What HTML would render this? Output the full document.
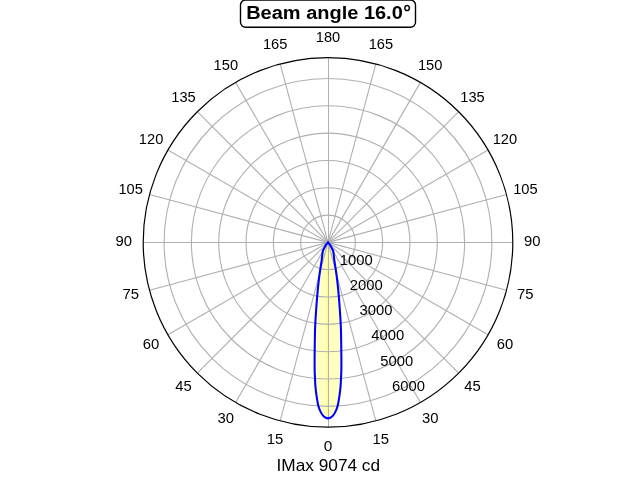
<!DOCTYPE html>
<html><head><meta charset="utf-8"><title>Beam angle</title>
<style>
html,body{margin:0;padding:0;background:#fff;}
body{width:640px;height:480px;overflow:hidden;}
svg{display:block;will-change:transform;}
text{font-family:"Liberation Sans",sans-serif;fill:#000;}
</style></head><body>
<svg width="640" height="480" viewBox="0 0 640 480">
<rect x="0" y="0" width="640" height="480" fill="#fff"/>
<path d="M328.00 242.30 C328.40 242.83 329.67 244.34 330.40 245.50 C331.13 246.66 331.93 248.33 332.40 249.25 C332.87 250.17 333.07 250.71 333.20 251.00 C333.31 251.83 333.67 254.48 333.85 256.00 C334.03 257.52 333.99 257.92 334.30 260.10 C334.61 262.28 335.22 265.77 335.70 269.10 C336.18 272.43 336.68 275.60 337.20 280.10 C337.72 284.60 338.33 290.73 338.80 296.10 C339.27 301.47 339.65 306.97 340.00 312.30 C340.35 317.63 340.68 321.80 340.90 328.10 C341.12 334.40 341.22 344.40 341.30 350.10 C341.38 355.80 341.40 358.63 341.40 362.30 C341.40 365.97 341.35 369.80 341.30 372.10 C341.25 374.40 341.22 373.77 341.10 376.10 C340.98 378.43 340.88 382.77 340.60 386.10 C340.32 389.43 339.90 392.77 339.40 396.10 C338.90 399.43 338.29 403.43 337.60 406.10 C336.91 408.77 336.10 410.43 335.25 412.10 C334.40 413.77 333.34 415.15 332.50 416.10 C331.66 417.05 330.95 417.42 330.20 417.80 C329.45 418.18 328.73 418.40 328.00 418.40 C327.27 418.40 326.55 418.18 325.80 417.80 C325.05 417.42 324.34 417.05 323.50 416.10 C322.66 415.15 321.60 413.77 320.75 412.10 C319.90 410.43 319.09 408.77 318.40 406.10 C317.71 403.43 317.10 399.43 316.60 396.10 C316.10 392.77 315.68 389.43 315.40 386.10 C315.12 382.77 315.02 378.43 314.90 376.10 C314.78 373.77 314.75 374.40 314.70 372.10 C314.65 369.80 314.60 365.97 314.60 362.30 C314.60 358.63 314.62 355.80 314.70 350.10 C314.78 344.40 314.88 334.40 315.10 328.10 C315.32 321.80 315.65 317.63 316.00 312.30 C316.35 306.97 316.73 301.47 317.20 296.10 C317.67 290.73 318.28 284.60 318.80 280.10 C319.32 275.60 319.82 272.43 320.30 269.10 C320.78 265.77 321.39 262.28 321.70 260.10 C322.01 257.92 321.97 257.52 322.15 256.00 C322.33 254.48 322.69 251.83 322.80 251.00 C322.93 250.71 323.13 250.17 323.60 249.25 C324.07 248.33 324.87 246.66 325.60 245.50 C326.33 244.34 327.60 242.83 328.00 242.30 Z" fill="#ffffbf" stroke="none"/>
<rect x="327.05" y="242.3" width="1.0" height="175" fill="#ffff78"/>
<circle cx="328.00" cy="242.40" r="27.32" fill="none" stroke="#b0b0b0" stroke-width="1.11"/>
<circle cx="328.00" cy="242.40" r="54.64" fill="none" stroke="#b0b0b0" stroke-width="1.11"/>
<circle cx="328.00" cy="242.40" r="81.96" fill="none" stroke="#b0b0b0" stroke-width="1.11"/>
<circle cx="328.00" cy="242.40" r="109.28" fill="none" stroke="#b0b0b0" stroke-width="1.11"/>
<circle cx="328.00" cy="242.40" r="136.60" fill="none" stroke="#b0b0b0" stroke-width="1.11"/>
<circle cx="328.00" cy="242.40" r="163.92" fill="none" stroke="#b0b0b0" stroke-width="1.11"/>
<line x1="328.50" y1="242.40" x2="328.50" y2="427.20" stroke="#b0b0b0" stroke-width="1"/>
<line x1="328.00" y1="242.40" x2="375.83" y2="420.90" stroke="#b0b0b0" stroke-width="1.11"/>
<line x1="328.00" y1="242.40" x2="420.40" y2="402.44" stroke="#b0b0b0" stroke-width="1.11"/>
<line x1="328.00" y1="242.40" x2="458.67" y2="373.07" stroke="#b0b0b0" stroke-width="1.11"/>
<line x1="328.00" y1="242.40" x2="488.04" y2="334.80" stroke="#b0b0b0" stroke-width="1.11"/>
<line x1="328.00" y1="242.40" x2="506.50" y2="290.23" stroke="#b0b0b0" stroke-width="1.11"/>
<line x1="328.00" y1="242.50" x2="512.80" y2="242.50" stroke="#b0b0b0" stroke-width="1"/>
<line x1="328.00" y1="242.40" x2="506.50" y2="194.57" stroke="#b0b0b0" stroke-width="1.11"/>
<line x1="328.00" y1="242.40" x2="488.04" y2="150.00" stroke="#b0b0b0" stroke-width="1.11"/>
<line x1="328.00" y1="242.40" x2="458.67" y2="111.73" stroke="#b0b0b0" stroke-width="1.11"/>
<line x1="328.00" y1="242.40" x2="420.40" y2="82.36" stroke="#b0b0b0" stroke-width="1.11"/>
<line x1="328.00" y1="242.40" x2="375.83" y2="63.90" stroke="#b0b0b0" stroke-width="1.11"/>
<line x1="328.50" y1="242.40" x2="328.50" y2="57.60" stroke="#b0b0b0" stroke-width="1"/>
<line x1="328.00" y1="242.40" x2="280.17" y2="63.90" stroke="#b0b0b0" stroke-width="1.11"/>
<line x1="328.00" y1="242.40" x2="235.60" y2="82.36" stroke="#b0b0b0" stroke-width="1.11"/>
<line x1="328.00" y1="242.40" x2="197.33" y2="111.73" stroke="#b0b0b0" stroke-width="1.11"/>
<line x1="328.00" y1="242.40" x2="167.96" y2="150.00" stroke="#b0b0b0" stroke-width="1.11"/>
<line x1="328.00" y1="242.40" x2="149.50" y2="194.57" stroke="#b0b0b0" stroke-width="1.11"/>
<line x1="328.00" y1="242.50" x2="143.20" y2="242.50" stroke="#b0b0b0" stroke-width="1"/>
<line x1="328.00" y1="242.40" x2="149.50" y2="290.23" stroke="#b0b0b0" stroke-width="1.11"/>
<line x1="328.00" y1="242.40" x2="167.96" y2="334.80" stroke="#b0b0b0" stroke-width="1.11"/>
<line x1="328.00" y1="242.40" x2="197.33" y2="373.07" stroke="#b0b0b0" stroke-width="1.11"/>
<line x1="328.00" y1="242.40" x2="235.60" y2="402.44" stroke="#b0b0b0" stroke-width="1.11"/>
<line x1="328.00" y1="242.40" x2="280.17" y2="420.90" stroke="#b0b0b0" stroke-width="1.11"/>
<path d="M328.00 242.30 C328.40 242.83 329.67 244.34 330.40 245.50 C331.13 246.66 331.93 248.33 332.40 249.25 C332.87 250.17 333.07 250.71 333.20 251.00 C333.31 251.83 333.67 254.48 333.85 256.00 C334.03 257.52 333.99 257.92 334.30 260.10 C334.61 262.28 335.22 265.77 335.70 269.10 C336.18 272.43 336.68 275.60 337.20 280.10 C337.72 284.60 338.33 290.73 338.80 296.10 C339.27 301.47 339.65 306.97 340.00 312.30 C340.35 317.63 340.68 321.80 340.90 328.10 C341.12 334.40 341.22 344.40 341.30 350.10 C341.38 355.80 341.40 358.63 341.40 362.30 C341.40 365.97 341.35 369.80 341.30 372.10 C341.25 374.40 341.22 373.77 341.10 376.10 C340.98 378.43 340.88 382.77 340.60 386.10 C340.32 389.43 339.90 392.77 339.40 396.10 C338.90 399.43 338.29 403.43 337.60 406.10 C336.91 408.77 336.10 410.43 335.25 412.10 C334.40 413.77 333.34 415.15 332.50 416.10 C331.66 417.05 330.95 417.42 330.20 417.80 C329.45 418.18 328.73 418.40 328.00 418.40 C327.27 418.40 326.55 418.18 325.80 417.80 C325.05 417.42 324.34 417.05 323.50 416.10 C322.66 415.15 321.60 413.77 320.75 412.10 C319.90 410.43 319.09 408.77 318.40 406.10 C317.71 403.43 317.10 399.43 316.60 396.10 C316.10 392.77 315.68 389.43 315.40 386.10 C315.12 382.77 315.02 378.43 314.90 376.10 C314.78 373.77 314.75 374.40 314.70 372.10 C314.65 369.80 314.60 365.97 314.60 362.30 C314.60 358.63 314.62 355.80 314.70 350.10 C314.78 344.40 314.88 334.40 315.10 328.10 C315.32 321.80 315.65 317.63 316.00 312.30 C316.35 306.97 316.73 301.47 317.20 296.10 C317.67 290.73 318.28 284.60 318.80 280.10 C319.32 275.60 319.82 272.43 320.30 269.10 C320.78 265.77 321.39 262.28 321.70 260.10 C322.01 257.92 321.97 257.52 322.15 256.00 C322.33 254.48 322.69 251.83 322.80 251.00 C322.93 250.71 323.13 250.17 323.60 249.25 C324.07 248.33 324.87 246.66 325.60 245.50 C326.33 244.34 327.60 242.83 328.00 242.30 Z" fill="none" stroke="#0000ff" stroke-width="2.08" stroke-linejoin="miter" stroke-linecap="butt"/>
<circle cx="328.00" cy="242.40" r="184.80" fill="none" stroke="#000" stroke-width="1.20"/>
<text x="328.00" y="450.75" font-size="14.40" text-anchor="middle" textLength="8.60" lengthAdjust="spacingAndGlyphs">0</text>
<text x="380.88" y="443.79" font-size="14.40" text-anchor="middle" textLength="16.50" lengthAdjust="spacingAndGlyphs">15</text>
<text x="275.12" y="443.79" font-size="14.40" text-anchor="middle" textLength="16.50" lengthAdjust="spacingAndGlyphs">15</text>
<text x="430.15" y="423.38" font-size="14.40" text-anchor="middle" textLength="16.50" lengthAdjust="spacingAndGlyphs">30</text>
<text x="225.85" y="423.38" font-size="14.40" text-anchor="middle" textLength="16.50" lengthAdjust="spacingAndGlyphs">30</text>
<text x="472.46" y="390.91" font-size="14.40" text-anchor="middle" textLength="16.50" lengthAdjust="spacingAndGlyphs">45</text>
<text x="183.54" y="390.91" font-size="14.40" text-anchor="middle" textLength="16.50" lengthAdjust="spacingAndGlyphs">45</text>
<text x="504.93" y="348.60" font-size="14.40" text-anchor="middle" textLength="16.50" lengthAdjust="spacingAndGlyphs">60</text>
<text x="151.07" y="348.60" font-size="14.40" text-anchor="middle" textLength="16.50" lengthAdjust="spacingAndGlyphs">60</text>
<text x="525.34" y="299.33" font-size="14.40" text-anchor="middle" textLength="16.50" lengthAdjust="spacingAndGlyphs">75</text>
<text x="130.66" y="299.33" font-size="14.40" text-anchor="middle" textLength="16.50" lengthAdjust="spacingAndGlyphs">75</text>
<text x="532.30" y="246.45" font-size="14.40" text-anchor="middle" textLength="16.50" lengthAdjust="spacingAndGlyphs">90</text>
<text x="123.70" y="246.45" font-size="14.40" text-anchor="middle" textLength="16.50" lengthAdjust="spacingAndGlyphs">90</text>
<text x="525.34" y="193.57" font-size="14.40" text-anchor="middle" textLength="24.43" lengthAdjust="spacingAndGlyphs">105</text>
<text x="130.66" y="193.57" font-size="14.40" text-anchor="middle" textLength="24.43" lengthAdjust="spacingAndGlyphs">105</text>
<text x="504.93" y="144.30" font-size="14.40" text-anchor="middle" textLength="24.43" lengthAdjust="spacingAndGlyphs">120</text>
<text x="151.07" y="144.30" font-size="14.40" text-anchor="middle" textLength="24.43" lengthAdjust="spacingAndGlyphs">120</text>
<text x="472.46" y="101.99" font-size="14.40" text-anchor="middle" textLength="24.43" lengthAdjust="spacingAndGlyphs">135</text>
<text x="183.54" y="101.99" font-size="14.40" text-anchor="middle" textLength="24.43" lengthAdjust="spacingAndGlyphs">135</text>
<text x="430.15" y="69.52" font-size="14.40" text-anchor="middle" textLength="24.43" lengthAdjust="spacingAndGlyphs">150</text>
<text x="225.85" y="69.52" font-size="14.40" text-anchor="middle" textLength="24.43" lengthAdjust="spacingAndGlyphs">150</text>
<text x="380.88" y="49.11" font-size="14.40" text-anchor="middle" textLength="24.43" lengthAdjust="spacingAndGlyphs">165</text>
<text x="275.12" y="49.11" font-size="14.40" text-anchor="middle" textLength="24.43" lengthAdjust="spacingAndGlyphs">165</text>
<text x="328.00" y="42.15" font-size="14.40" text-anchor="middle" textLength="24.43" lengthAdjust="spacingAndGlyphs">180</text>
<text x="356.25" y="265.30" font-size="14.40" text-anchor="middle" textLength="32.96" lengthAdjust="spacingAndGlyphs">1000</text>
<text x="366.25" y="290.15" font-size="14.40" text-anchor="middle" textLength="32.96" lengthAdjust="spacingAndGlyphs">2000</text>
<text x="376.00" y="315.25" font-size="14.40" text-anchor="middle" textLength="32.96" lengthAdjust="spacingAndGlyphs">3000</text>
<text x="387.75" y="340.05" font-size="14.40" text-anchor="middle" textLength="32.96" lengthAdjust="spacingAndGlyphs">4000</text>
<text x="396.80" y="366.15" font-size="14.40" text-anchor="middle" textLength="32.96" lengthAdjust="spacingAndGlyphs">5000</text>
<text x="408.50" y="390.95" font-size="14.40" text-anchor="middle" textLength="32.96" lengthAdjust="spacingAndGlyphs">6000</text>
<text x="328.3" y="471" font-size="16.2" text-anchor="middle" textLength="103.6" lengthAdjust="spacingAndGlyphs">IMax 9074 cd</text>
<rect x="240.5" y="0.05" width="175.0" height="27.25" rx="5" ry="5" fill="#fff" stroke="#000" stroke-width="1.39"/>
<text x="246.2" y="18.5" font-size="17.6" font-weight="bold" text-anchor="start" textLength="156.6" lengthAdjust="spacingAndGlyphs">Beam angle 16.0</text>
<text x="402.9" y="20.3" font-size="20.6" font-weight="normal" text-anchor="start" stroke="#000" stroke-width="0.45">°</text>
</svg>
</body></html>
